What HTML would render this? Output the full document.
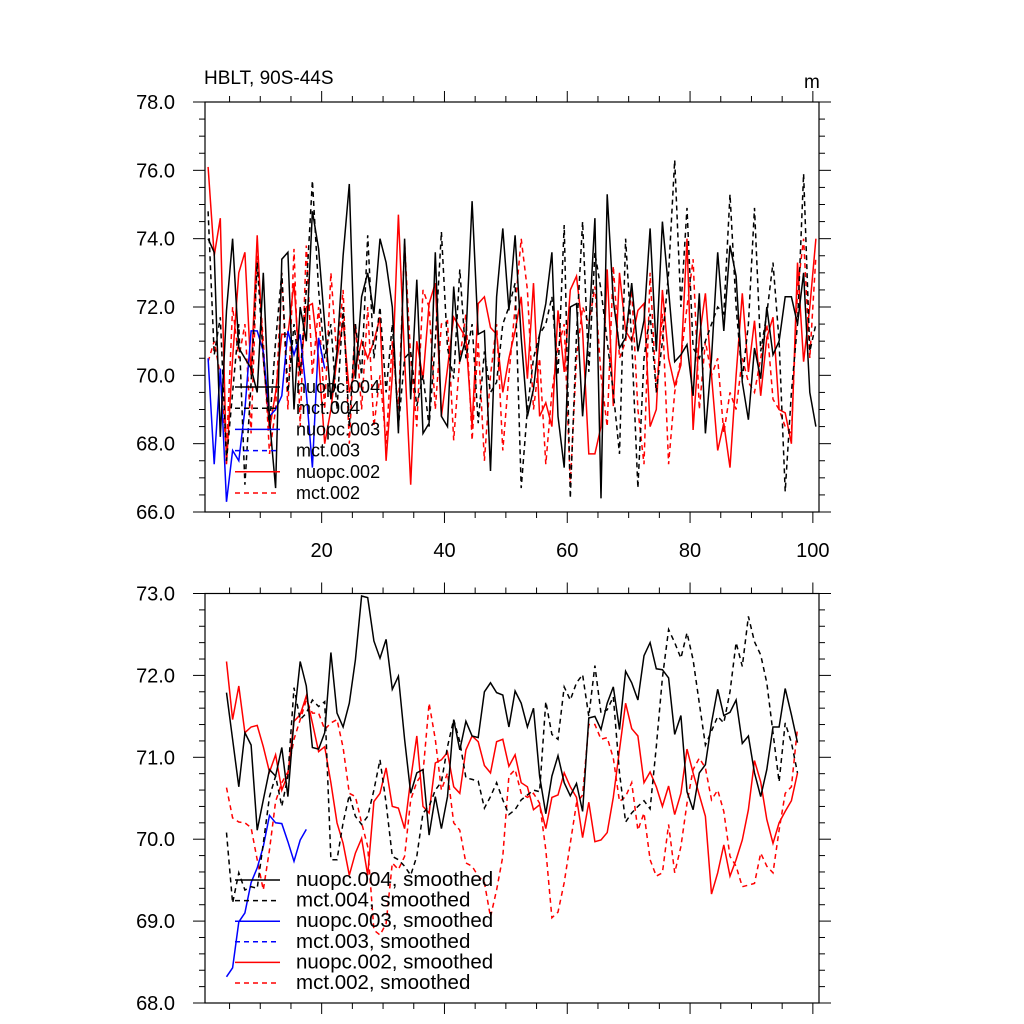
<!DOCTYPE html>
<html><head><meta charset="utf-8"><style>
html,body{margin:0;padding:0;background:#fff;}
svg{display:block;font-family:"Liberation Sans",sans-serif;}
</style></head><body>
<svg id="chart" width="1024" height="1024" viewBox="0 0 1024 1024" xmlns="http://www.w3.org/2000/svg">
<rect width="1024" height="1024" fill="#fff"/>
<text x="204" y="84" font-size="19">HBLT, 90S-44S</text>
<text x="804" y="88" font-size="19">m</text>
<g id="top"></g>
<g id="bot"></g>
</svg>
<script>
// ---- data: raw annual values (years 1..100) ----
const nuopc004 = [74.0,73.6,68.2,71.9,74.0,70.8,70.5,70.2,69.5,73.0,68.7,66.7,73.4,73.6,69.0,72.0,71.0,74.8,73.7,71.5,69.3,70.7,73.5,75.6,69.9,72.3,73.0,71.8,74.0,73.3,72.0,68.3,74.0,69.3,72.8,68.3,68.6,73.6,68.8,68.5,72.6,70.4,71.1,75.1,71.2,71.3,67.2,72.3,74.3,71.9,74.1,71.1,68.8,69.6,71.2,72.1,73.6,68.8,67.3,72.0,72.1,68.8,71.3,74.6,66.4,75.3,72.2,70.8,71.1,72.7,70.7,71.6,74.3,70.7,74.5,72.5,70.4,70.6,70.9,69.4,72.4,68.3,70.5,73.6,71.3,73.8,72.9,69.8,68.7,70.8,69.9,72.0,70.6,71.0,72.3,72.3,71.5,73.0,69.5,68.5];
const mct004 = [74.8,70.6,71.7,67.5,69.5,71.5,66.8,69.8,73.3,70.5,68.5,71.0,73.0,69.5,71.5,70.0,72.5,75.7,72.5,70.5,71.5,69.0,72.0,68.5,71.5,70.0,74.1,70.5,72.0,69.5,71.5,68.5,70.5,70.7,69.1,70.0,68.5,71.0,74.2,70.8,69.9,73.1,70.5,71.5,68.6,70.7,69.5,69.8,71.5,72.0,72.7,66.7,69.0,70.5,71.2,71.5,72.3,70.0,74.4,66.4,71.2,74.5,70.1,73.6,72.5,71.0,69.5,67.7,74.0,71.0,66.7,70.5,71.8,69.5,71.0,73.0,76.3,72.0,74.9,70.8,70.5,71.0,71.5,72.0,71.8,75.3,72.0,69.9,71.5,74.9,70.7,71.8,73.3,71.0,66.6,69.5,71.5,75.9,70.7,71.5];
const nuopc003 = [70.5,67.4,70.2,66.3,67.8,67.5,69.0,71.3,71.3,70.7,68.8,69.0,69.4,71.3,70.6,71.2,69.5,67.3,71.1,70.2];
const nuopc002 = [76.1,73.5,74.6,67.4,70.5,73.0,73.6,70.0,74.1,70.5,68.4,69.5,71.2,71.2,72.7,70.0,72.0,72.1,70.5,68.0,69.0,70.5,71.6,69.5,70.2,71.0,70.5,71.0,71.7,67.5,70.0,74.7,70.5,66.8,71.0,69.9,72.1,72.7,68.8,70.2,71.7,71.4,71.1,68.5,72.1,72.3,71.4,71.2,69.5,70.5,71.3,72.3,69.9,72.7,68.8,69.2,68.5,71.9,70.1,72.5,72.9,71.3,67.7,67.7,68.5,73.1,69.1,73.0,71.3,71.0,71.9,72.1,68.5,69.0,72.5,70.5,69.7,70.3,74.0,68.4,71.1,72.4,70.0,67.8,68.6,67.3,70.0,72.4,70.1,71.6,69.4,71.1,71.7,69.0,68.9,68.0,73.3,70.4,72.0,74.0];
const mct002 = [70.4,71.0,70.0,67.8,72.0,70.5,71.5,68.3,73.5,71.0,67.7,69.0,73.0,69.0,73.7,68.5,73.8,70.0,72.0,69.0,73.0,70.5,72.5,68.0,71.5,69.0,72.0,68.5,70.0,68.0,71.0,69.0,73.9,70.5,68.5,72.5,72.0,69.0,71.5,71.6,68.1,70.5,71.8,68.1,71.0,67.5,70.0,71.5,67.8,70.0,72.0,74.0,72.5,69.0,70.5,67.4,69.5,70.8,71.5,66.8,70.5,72.0,71.5,72.6,70.0,68.5,73.2,70.5,71.0,72.5,69.0,67.4,73.0,69.5,71.8,67.4,69.5,70.5,72.0,73.4,69.0,71.0,70.0,70.5,68.3,69.5,69.0,70.5,69.8,69.5,70.5,71.5,69.3,69.0,68.5,68.3,72.5,74.0,70.5,73.5];
// ---- data: 7-yr smoothed (years 4..97) ----
const nuopc004s = [71.79,71.22,70.64,71.30,71.15,70.11,70.48,70.85,70.77,71.12,70.52,71.46,72.17,71.87,71.12,71.10,71.30,72.28,71.54,71.37,71.66,72.19,72.97,72.95,72.42,72.21,72.44,71.83,71.99,71.22,70.56,70.81,70.85,70.05,70.52,70.13,70.52,71.46,71.09,71.44,71.26,71.24,71.80,71.91,71.79,71.76,71.37,71.81,71.66,71.37,71.60,70.77,70.31,70.77,71.02,70.69,70.53,70.68,70.34,71.48,71.50,71.34,71.66,71.86,71.34,72.05,71.91,71.70,72.24,72.40,72.08,72.07,71.97,71.28,71.51,70.58,70.36,70.81,70.91,71.42,71.83,71.51,71.55,71.70,71.17,71.26,70.81,70.52,70.85,71.37,71.37,71.84,71.52,71.18];
const mct004s = [70.08,69.22,69.59,69.38,69.42,69.40,69.95,70.52,70.77,70.40,70.77,71.85,71.46,71.54,71.70,71.62,71.68,69.75,69.75,70.20,70.54,70.28,70.18,70.28,70.60,70.97,70.44,69.79,69.75,69.67,69.56,69.79,70.32,70.40,70.60,70.70,71.13,71.46,71.19,70.75,70.73,70.71,70.38,70.52,70.69,70.48,70.30,70.36,70.48,70.54,70.60,70.58,71.68,71.28,71.22,71.86,71.70,71.91,72.01,71.50,72.12,71.54,71.58,71.74,70.81,70.21,70.32,70.40,70.47,70.37,71.13,71.97,72.56,72.40,72.21,72.52,72.19,71.66,71.15,71.32,71.50,71.42,71.80,72.40,72.11,72.72,72.41,72.25,71.91,71.30,70.70,71.42,71.18,70.81];
const nuopc003s = [68.32,68.43,68.99,69.10,69.47,69.65,69.91,70.29,70.20,70.19,69.97,69.73,69.99,70.12];
const nuopc002s = [72.17,71.46,71.87,71.30,71.37,71.39,71.13,70.82,71.03,70.60,70.79,71.44,71.52,71.75,71.42,71.07,71.13,70.69,70.20,69.95,69.56,69.83,70.01,69.56,70.46,70.56,70.87,70.40,70.38,70.13,70.73,71.26,70.40,70.32,70.93,70.97,71.06,70.64,70.56,71.09,71.26,71.19,70.90,70.81,71.19,71.22,70.89,71.03,70.69,70.64,70.36,70.42,70.13,70.51,70.54,70.81,70.64,70.51,70.02,70.45,69.97,69.99,70.08,70.51,71.09,71.66,71.35,71.26,70.69,70.82,70.64,70.40,70.65,70.30,70.56,71.10,70.81,70.54,70.28,69.33,69.59,69.93,69.55,69.75,69.99,70.36,70.96,70.70,70.24,69.95,70.20,70.34,70.47,70.81];
const mct002s = [70.63,70.26,70.21,70.20,70.14,69.75,69.38,69.87,70.46,70.69,70.82,71.22,71.46,71.70,71.54,71.54,71.34,71.42,71.46,71.12,70.56,70.52,70.20,69.91,68.89,68.83,68.97,69.71,69.63,69.79,70.48,70.70,70.81,71.66,71.22,70.60,70.81,70.20,70.11,69.71,69.67,69.55,69.47,69.05,69.38,69.79,70.77,70.85,70.56,70.51,70.56,70.44,69.87,69.04,69.11,69.47,69.95,70.44,70.54,71.40,71.40,71.22,71.24,70.99,70.46,70.52,70.69,70.11,70.32,69.75,69.55,69.59,70.18,69.59,69.91,70.44,70.85,70.99,70.87,70.48,70.60,70.34,69.79,69.67,69.42,69.44,69.46,69.83,69.67,69.59,70.11,70.56,70.64,71.36];
const xTicks = [20,40,60,80,100];
const topYTicks = [66,68,70,72,74,76,78];
const botYTicks = [68,69,70,71,72,73];
const topLegend = ["nuopc.004","mct.004","nuopc.003","mct.003","nuopc.002","mct.002"];
const botLegend = ["nuopc.004, smoothed","mct.004, smoothed","nuopc.003, smoothed","mct.003, smoothed","nuopc.002, smoothed","mct.002, smoothed"];

const NS="http://www.w3.org/2000/svg";
const L=205,R=819,XMIN=1,XMAX=101;
function sx(v){return L+(v-XMIN)/(XMAX-XMIN)*(R-L);}
function mk(tag,attrs,parent){const e=document.createElementNS(NS,tag);for(const k in attrs)e.setAttribute(k,attrs[k]);parent.appendChild(e);return e;}

function panel(g,T,B,ymin,ymax,yTicks,minorStep,showX,series,legend,legY0,legDy,legFs){
  const sy=v=>B-(v-ymin)/(ymax-ymin)*(B-T);
  series.forEach(s=>{
    const pts=s.data.map((v,i)=>sx(s.start+i).toFixed(1)+","+sy(v).toFixed(1)).join(" ");
    const pl=mk("polyline",{points:pts,fill:"none",stroke:s.color,"stroke-width":1.5,"stroke-dasharray":s.dash?"5,4":"none"},g);
    
    
  });
  const fr=mk("rect",{x:L,y:T,width:R-L,height:B-T,fill:"none",stroke:"#000","stroke-width":1.2},g);
  
  
  for(let v=5;v<=100;v+=5){
    const major=v%20===0, len=major?11:6;
    mk("line",{x1:sx(v),x2:sx(v),y1:T,y2:T-len,stroke:"#000","stroke-width":1},g);
    mk("line",{x1:sx(v),x2:sx(v),y1:B,y2:B+len,stroke:"#000","stroke-width":1},g);
  }
  if(showX){
    xTicks.forEach(v=>{
      const t=mk("text",{x:sx(v),y:B+45,"font-size":20,"text-anchor":"middle"},g);
      t.textContent=v;
      
      
    });
  }
  for(let v=ymin;v<=ymax+1e-9;v+=minorStep){
    const major=yTicks.some(t=>Math.abs(t-v)<1e-6), len=major?12:6;
    mk("line",{x1:L,x2:L-len,y1:sy(v),y2:sy(v),stroke:"#000","stroke-width":1},g);
    mk("line",{x1:R,x2:R+len,y1:sy(v),y2:sy(v),stroke:"#000","stroke-width":1},g);
  }
  yTicks.forEach(v=>{
    const t=mk("text",{x:175,y:sy(v)+7,"font-size":20,"text-anchor":"end"},g);
    t.textContent=v.toFixed(1);
    
    
  });
  const styles=[["#000",0],["#000",1],["#0000ff",0],["#0000ff",1],["#ff0000",0],["#ff0000",1]];
  legend.forEach((lab,i)=>{
    const y=legY0+i*legDy;
    const ln=mk("line",{x1:235,x2:280,y1:y,y2:y,stroke:styles[i][0],"stroke-width":1.5,"stroke-dasharray":styles[i][1]?"5,4":"none"},g);
    
    
    const t=mk("text",{x:296,y:y+6,"font-size":legFs},g);
    t.textContent=lab;
    
    
  });
}
panel(document.getElementById("top"),102,512,66,78,topYTicks,0.5,true,[
  {name:"mct002",data:mct002,start:1.5,color:"#ff0000",dash:1},
  {name:"nuopc002",data:nuopc002,start:1.5,color:"#ff0000",dash:0},
  {name:"nuopc003",data:nuopc003,start:1.5,color:"#0000ff",dash:0},
  {name:"mct004",data:mct004,start:1.5,color:"#000",dash:1},
  {name:"nuopc004",data:nuopc004,start:1.5,color:"#000",dash:0}
],topLegend,387,21.2,18);
panel(document.getElementById("bot"),593.5,1003,68,73,botYTicks,0.2,false,[
  {name:"mct002-smoothed",data:mct002s,start:4.5,color:"#ff0000",dash:1},
  {name:"nuopc002-smoothed",data:nuopc002s,start:4.5,color:"#ff0000",dash:0},
  {name:"nuopc003-smoothed",data:nuopc003s,start:4.5,color:"#0000ff",dash:0},
  {name:"mct004-smoothed",data:mct004s,start:4.5,color:"#000",dash:1},
  {name:"nuopc004-smoothed",data:nuopc004s,start:4.5,color:"#000",dash:0}
],botLegend,880,20.6,20.5);
</script>
</body></html>
